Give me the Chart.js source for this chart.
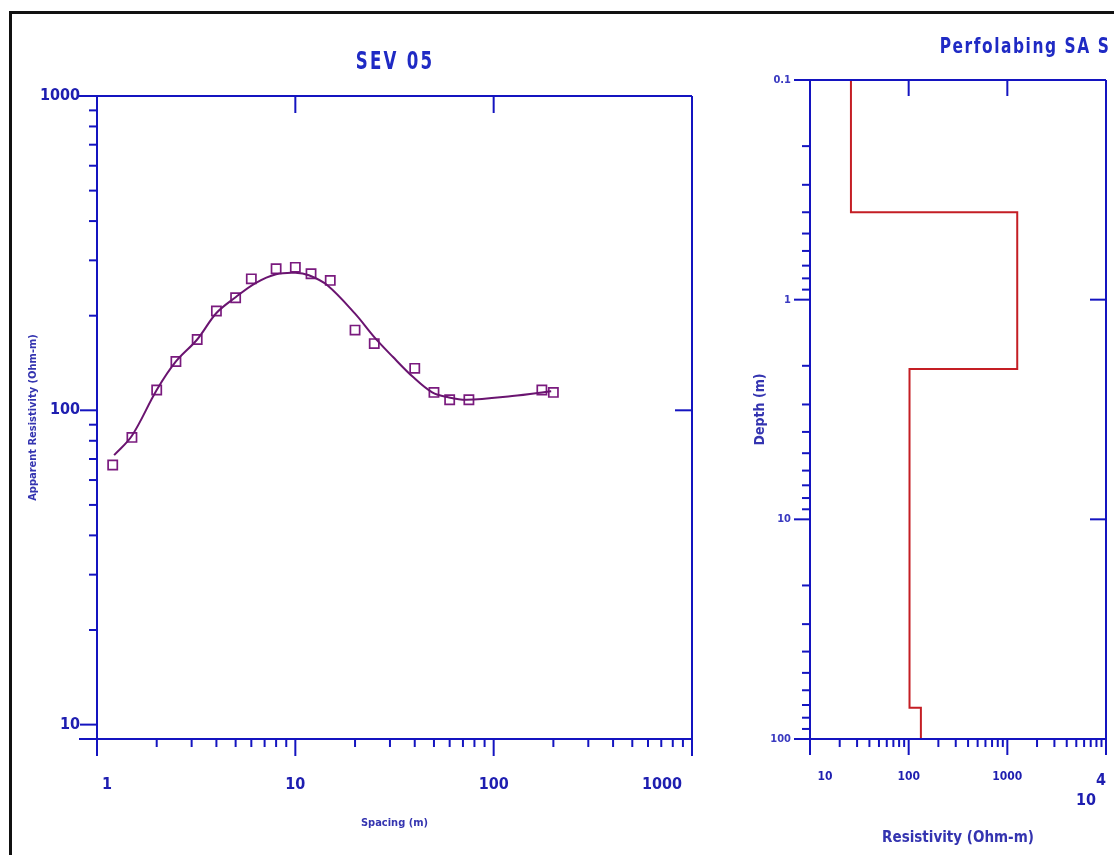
<!DOCTYPE html>
<html>
<head>
<meta charset="utf-8">
<script src="https://cdn.jsdelivr.net/npm/chart.js@4.4.1/dist/chart.umd.min.js"></script>
<style>
  html, body { margin: 0; padding: 0; background: #fff; }
  body { width: 1114px; height: 855px; position: relative; overflow: hidden; }
  .frame { position: absolute; left: 9px; top: 11px; width: 1200px; height: 900px;
           border-left: 3px solid #111; border-top: 3px solid #111; }
  .wrap { position: absolute; top: 0; height: 855px; }
  #sevWrap { left: 0; width: 728px; }
  #profWrap { left: 740px; width: 397px; }
  .title { position: absolute; white-space: nowrap;
           font-family: "Liberation Sans Narrow", "Arial Narrow", "DejaVu Sans Condensed", sans-serif;
           font-weight: bold; color: #1f2ac4; }
</style>
</head>
<body>
<div class="frame"></div>
<div class="wrap" id="sevWrap"><canvas id="sev" width="728" height="855"></canvas></div>
<div class="wrap" id="profWrap"><canvas id="prof" width="397" height="855"></canvas></div>
<div class="title" style="left:395px; top:60px; font-size:25px; letter-spacing:3px; transform:translate(-50%,-50%) scaleX(0.74);">SEV 05</div>
<div class="title" style="left:1025px; top:45px; font-size:22px; letter-spacing:2px; transform:translate(-50%,-50%) scaleX(0.78);">Perfolabing SA S</div>

<script>
// field data (AB/2 in m, apparent resistivity in ohm-m)
const spacing = [1.2, 1.5, 2, 2.5, 3.2, 4, 5, 6, 8, 10, 12, 15, 20, 25, 40, 50, 60, 75, 175, 200];
const apparentRes = [67, 82, 116, 143, 168, 207, 228, 262, 282, 285, 272, 259, 180, 163, 136, 114, 108, 108, 116, 114];

// model curve
const modelSpacing = [1.22, 1.5, 2, 2.5, 3.2, 4, 5, 6.3, 8, 10, 11.7, 14.5, 20, 25, 31, 39, 49, 59, 73, 124, 195];
const modelRes = [72, 83, 116, 143, 168, 204, 229, 254, 271, 274, 269, 250, 203, 171, 148, 128, 114, 110, 108, 111, 115];

// layered model: resistivity of each layer and depth of its base
const layerRes = [26, 1260, 102, 133];
const layerBase = [0.4, 2.07, 72, 100];
const topDepth = 0.1;

// labelled ticks
const spacingLabels = [1, 10, 100, 1000];
const resLabels = [10, 100, 1000];
const depthLabels = [0.1, 1, 10, 100];
const layerResLabels = [10, 100, 1000, 10000];

const NARROW = '"Liberation Sans Narrow", "Arial Narrow", "DejaVu Sans Condensed", sans-serif';
const AXIS = '#1414c0';
const LABEL = '#1e1eb0';

function logTicks(lo, hi) {
  const out = [];
  for (let p = lo; p < hi * 0.999; p *= 10) {
    for (let m = 1; m < 10; m++) out.push(Number((m * p).toPrecision(6)));
  }
  out.push(hi);
  return out;
}

const frame = {
  id: 'frame',
  afterDraw(chart, args, o) {
    const { ctx, chartArea: a, scales } = chart;
    const xs = scales.x, ys = scales.y;
    const seg = (x1, y1, x2, y2) => { ctx.beginPath(); ctx.moveTo(x1, y1); ctx.lineTo(x2, y2); ctx.stroke(); };
    ctx.save();
    ctx.strokeStyle = AXIS;
    ctx.lineWidth = 2;
    seg(a.left - o.ext, a.top, a.right, a.top);
    seg(a.left - o.ext, a.bottom, a.right, a.bottom);
    seg(a.left, a.top, a.left, a.bottom);
    seg(a.right, a.top, a.right, a.bottom);
    xs.ticks.forEach(t => {
      const px = xs.getPixelForValue(t.value);
      const len = o.xMajor.includes(t.value) ? o.major : o.minor;
      seg(px, a.bottom, px, a.bottom + len);
      if (o.xTop.includes(t.value)) seg(px, a.top, px, a.top + o.major);
    });
    ys.ticks.forEach(t => {
      const py = ys.getPixelForValue(t.value);
      const len = o.yMajor.includes(t.value) ? o.major : o.minor;
      seg(a.left - len, py, a.left, py);
      if (o.yRight.includes(t.value)) seg(a.right - o.major, py, a.right, py);
    });
    ctx.restore();
  }
};

// left: sounding curve
new Chart(document.getElementById('sev'), {
  type: 'scatter',
  data: {
    datasets: [
      {
        label: 'Modelo',
        data: modelSpacing.map((x, i) => ({ x, y: modelRes[i] })),
        showLine: true,
        borderColor: '#6a1470',
        borderWidth: 2,
        pointRadius: 0,
        tension: 0.35
      },
      {
        label: 'Campo',
        data: spacing.map((x, i) => ({ x, y: apparentRes[i] })),
        pointStyle: 'rect',
        pointRadius: 6.5,
        pointBorderWidth: 1.7,
        borderColor: '#7a1a7e',
        backgroundColor: 'rgba(0,0,0,0)'
      }
    ]
  },
  options: {
    responsive: false,
    animation: false,
    layout: { padding: { top: 96, right: 0, left: 0, bottom: 0 } },
    plugins: {
      legend: { display: false },
      tooltip: { enabled: false },
      frame: { ext: 18, major: 17, minor: 8, xMajor: spacingLabels, yMajor: resLabels, xTop: [10, 100], yRight: [100] }
    },
    scales: {
      x: {
        type: 'logarithmic', min: 1, max: 1000,
        afterBuildTicks: s => { s.ticks = logTicks(1, 1000).map(v => ({ value: v })); },
        afterFit: s => { s.height = 116; },
        grid: { display: false, drawTicks: false },
        border: { display: false },
        ticks: {
          autoSkip: false, maxRotation: 0, align: 'inner', padding: 36, color: LABEL,
          font: { family: NARROW, size: 16, weight: 'bold' },
          callback: v => v === 1 ? ' 1' : v === 1000 ? '1000  ' : (spacingLabels.includes(v) ? String(v) : '')
        },
        title: { display: true, text: 'Spacing (m)', color: '#3434b0',
                 font: { family: NARROW, size: 11, weight: 'bold' }, padding: { bottom: 25 } }
      },
      y: {
        type: 'logarithmic', min: 9, max: 1000,
        afterBuildTicks: s => { s.ticks = logTicks(10, 1000).map(v => ({ value: v })); },
        afterFit: s => { s.width = 97; },
        grid: { display: false, drawTicks: false },
        border: { display: false },
        ticks: {
          autoSkip: false, padding: 17, color: LABEL,
          font: { family: NARROW, size: 16, weight: 'bold' },
          callback: v => resLabels.includes(v) ? String(v) : ''
        },
        title: { display: true, text: 'Apparent Resistivity (Ohm-m)', color: '#3434b0',
                 font: { family: NARROW, size: 11, weight: 'bold' }, padding: { top: 27 } }
      }
    }
  },
  plugins: [frame]
});

// right: layered resistivity profile
const profile = [];
let upper = topDepth;
layerRes.forEach((r, i) => {
  profile.push({ x: r, y: upper });
  profile.push({ x: r, y: layerBase[i] });
  upper = layerBase[i];
});

new Chart(document.getElementById('prof'), {
  type: 'scatter',
  data: {
    datasets: [{
      label: 'Perfil',
      data: profile,
      showLine: true,
      borderColor: '#c41e24',
      borderWidth: 2,
      pointRadius: 0
    }]
  },
  options: {
    responsive: false,
    animation: false,
    layout: { padding: { top: 80, right: 0, left: 0, bottom: 0 } },
    plugins: {
      legend: { display: false },
      tooltip: { enabled: false },
      frame: { ext: 16, major: 16, minor: 8, xMajor: layerResLabels, yMajor: depthLabels, xTop: [100, 1000], yRight: [1, 10] }
    },
    scales: {
      x: {
        type: 'logarithmic', min: 10, max: 10000,
        afterBuildTicks: s => { s.ticks = logTicks(10, 10000).map(v => ({ value: v })); },
        afterFit: s => { s.height = 116; },
        grid: { display: false, drawTicks: false },
        border: { display: false },
        ticks: {
          autoSkip: false, maxRotation: 0, align: 'inner', padding: 31, color: LABEL,
          font: c => (c.tick && c.tick.value === 10000)
            ? { family: NARROW, size: 16, weight: 'bold', lineHeight: 1.3 }
            : { family: NARROW, size: 12, weight: 'bold' },
          callback: v => v === 10 ? '  10' : v === 10000 ? ['4', '10  '] : (layerResLabels.includes(v) ? String(v) : '')
        },
        title: { display: true, text: 'Resistivity (Ohm-m)', color: '#3434b0',
                 font: { family: NARROW, size: 15, weight: 'bold' }, padding: { bottom: 8 } }
      },
      y: {
        type: 'logarithmic', min: 0.1, max: 100, reverse: true,
        afterBuildTicks: s => { s.ticks = logTicks(0.1, 100).map(v => ({ value: v })); },
        afterFit: s => { s.width = 70; },
        grid: { display: false, drawTicks: false },
        border: { display: false },
        ticks: {
          autoSkip: false, padding: 19, color: '#3a3ac0',
          font: { family: NARROW, size: 11, weight: 'bold' },
          callback: v => depthLabels.includes(v) ? String(v) : ''
        },
        title: { display: true, text: 'Depth (m)', color: '#3434b0',
                 font: { family: NARROW, size: 14, weight: 'bold' }, padding: { top: 12 } }
      }
    }
  },
  plugins: [frame]
});
</script>
</body>
</html>
